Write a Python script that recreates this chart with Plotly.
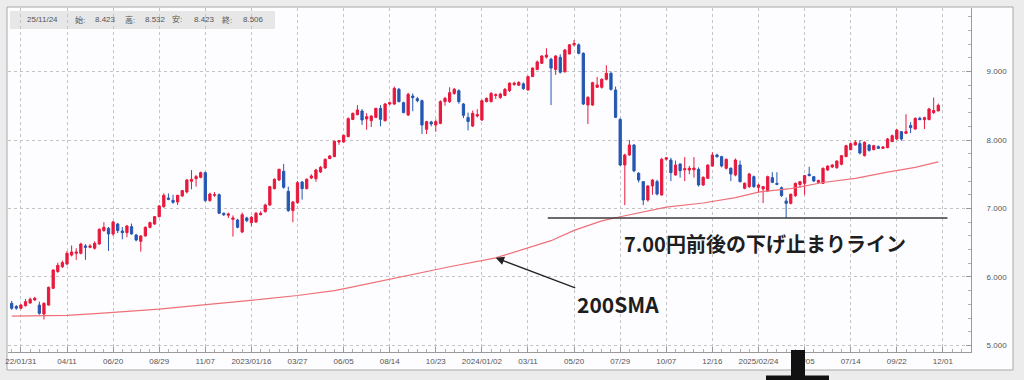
import pandas as pd
import plotly.graph_objects as go

# ---------------- data (weekly candles, first week 2022-01-17) ----------------
start_week = "2022-01-17"

open_ = [
    5.616, 5.570, 5.543, 5.580, 5.620, 5.665, 5.590, 5.460, 5.590, 5.835,
    6.080, 6.150, 6.190, 6.320, 6.346, 6.346, 6.453, 6.433, 6.419, 6.482,
    6.677, 6.711, 6.628, 6.774, 6.672, 6.647, 6.735, 6.613, 6.521, 6.599,
    6.725, 6.774, 6.881, 7.027, 7.153, 7.119, 7.095, 7.183, 7.241, 7.397,
    7.436, 7.455, 7.523, 7.115, 7.192, 7.202, 6.930, 6.901, 6.842, 6.832,
    6.657, 6.862, 6.793, 6.803, 6.910, 6.954, 7.051, 7.290, 7.416, 7.543,
    7.250, 6.969, 7.085, 7.387, 7.290, 7.445, 7.436, 7.533, 7.591, 7.728,
    7.757, 7.971, 7.971, 8.049, 8.300, 8.370, 8.423, 8.307, 8.282, 8.330,
    8.462, 8.282, 8.525, 8.525, 8.740, 8.545, 8.365, 8.642, 8.603, 8.574,
    8.156, 8.263, 8.219, 8.243, 8.560, 8.560, 8.680, 8.720, 8.525, 8.330,
    8.204, 8.350, 8.292, 8.560, 8.560, 8.650, 8.620, 8.650, 8.720, 8.810,
    8.800, 8.820, 8.730, 8.925, 9.030, 9.120, 9.210, 9.180, 9.030, 9.207,
    8.998, 9.256, 9.390, 9.390, 9.265, 8.511, 8.510, 8.769, 8.769, 8.886,
    8.973, 8.730, 8.300, 7.635, 7.781, 7.927, 7.514, 7.392, 7.124, 7.329,
    7.392, 7.197, 7.720, 7.708, 7.489, 7.650, 7.565, 7.562, 7.565, 7.572,
    7.343, 7.441, 7.621, 7.781, 7.757, 7.587, 7.587, 7.489, 7.635, 7.295,
    7.319, 7.465, 7.309, 7.285, 7.256, 7.450, 7.367, 7.304, 7.110, 7.075,
    7.187, 7.350, 7.367, 7.499, 7.465, 7.382, 7.367, 7.562, 7.606, 7.596,
    7.645, 7.757, 7.859, 7.927, 7.947, 7.771, 7.927, 7.859, 7.903, 7.878,
    7.888, 7.976, 8.015, 8.122, 8.097, 8.210, 8.160, 8.316, 8.297, 8.297,
    8.400, 8.423,
]

high = [
    5.65, 5.59, 5.60, 5.68, 5.70, 5.71, 5.64, 5.63, 5.86, 6.11,
    6.21, 6.24, 6.38, 6.46, 6.42, 6.50, 6.48, 6.48, 6.52, 6.71,
    6.80, 6.73, 6.82, 6.79, 6.73, 6.76, 6.78, 6.63, 6.61, 6.74,
    6.81, 6.89, 7.05, 7.22, 7.22, 7.20, 7.20, 7.27, 7.43, 7.56,
    7.49, 7.54, 7.54, 7.23, 7.24, 7.22, 6.94, 6.94, 6.90, 6.85,
    6.94, 6.88, 6.89, 6.95, 6.96, 7.07, 7.33, 7.44, 7.58, 7.65,
    7.32, 7.11, 7.40, 7.40, 7.44, 7.50, 7.58, 7.62, 7.73, 7.78,
    7.99, 8.00, 8.08, 8.33, 8.40, 8.51, 8.45, 8.39, 8.36, 8.47,
    8.51, 8.54, 8.56, 8.78, 8.76, 8.56, 8.69, 8.68, 8.63, 8.59,
    8.28, 8.28, 8.30, 8.58, 8.63, 8.77, 8.76, 8.74, 8.54, 8.40,
    8.43, 8.45, 8.59, 8.62, 8.70, 8.68, 8.69, 8.76, 8.84, 8.85,
    8.86, 8.84, 8.94, 9.06, 9.16, 9.24, 9.34, 9.20, 9.24, 9.25,
    9.33, 9.40, 9.46, 9.41, 9.28, 8.64, 8.85, 8.92, 8.90, 9.09,
    9.00, 8.78, 8.32, 7.80, 8.00, 7.94, 7.53, 7.40, 7.34, 7.43,
    7.42, 7.74, 7.75, 7.74, 7.70, 7.66, 7.75, 7.62, 7.75, 7.60,
    7.47, 7.64, 7.82, 7.80, 7.77, 7.73, 7.60, 7.73, 7.70, 7.38,
    7.52, 7.48, 7.36, 7.33, 7.48, 7.53, 7.53, 7.32, 7.16, 7.22,
    7.38, 7.40, 7.49, 7.61, 7.47, 7.42, 7.60, 7.63, 7.65, 7.70,
    7.78, 7.93, 7.96, 8.00, 8.00, 7.98, 7.94, 7.93, 7.92, 7.91,
    8.03, 8.08, 8.16, 8.13, 8.375, 8.26, 8.33, 8.34, 8.34, 8.47,
    8.62, 8.532,
]

low = [
    5.52, 5.52, 5.53, 5.57, 5.61, 5.65, 5.45, 5.38, 5.58, 5.83,
    6.06, 6.13, 6.17, 6.30, 6.25, 6.33, 6.25, 6.42, 6.40, 6.47,
    6.66, 6.38, 6.60, 6.64, 6.55, 6.58, 6.62, 6.52, 6.37, 6.59,
    6.71, 6.76, 6.87, 7.01, 7.12, 7.07, 7.05, 7.17, 7.22, 7.28,
    7.32, 7.44, 7.10, 7.10, 7.17, 6.92, 6.89, 6.86, 6.59, 6.71,
    6.64, 6.80, 6.74, 6.79, 6.90, 6.94, 7.04, 7.28, 7.40, 7.29,
    6.95, 6.80, 7.07, 7.13, 7.28, 7.43, 7.39, 7.52, 7.58, 7.72,
    7.75, 7.93, 7.96, 8.04, 8.29, 8.36, 8.22, 8.15, 8.19, 8.32,
    8.20, 8.27, 8.51, 8.51, 8.55, 8.39, 8.35, 8.42, 8.55, 8.088,
    8.088, 8.20, 8.12, 8.23, 8.50, 8.54, 8.66, 8.53, 8.32, 8.14,
    8.19, 8.33, 8.28, 8.55, 8.55, 8.60, 8.60, 8.64, 8.70, 8.79,
    8.79, 8.73, 8.72, 8.92, 9.02, 9.11, 9.19, 8.51, 8.95, 8.97,
    8.98, 9.25, 9.37, 9.25, 8.51, 8.233, 8.50, 8.76, 8.75, 8.87,
    8.72, 8.32, 7.62, 7.05, 7.77, 7.53, 7.38, 7.05, 7.10, 7.20,
    7.19, 7.19, 7.70, 7.40, 7.48, 7.45, 7.40, 7.50, 7.45, 7.32,
    7.33, 7.43, 7.61, 7.74, 7.60, 7.57, 7.40, 7.47, 7.38, 7.28,
    7.30, 7.30, 7.23, 7.08, 7.24, 7.37, 7.34, 7.17, 6.857, 7.06,
    7.17, 7.30, 7.20, 7.47, 7.39, 7.37, 7.36, 7.55, 7.59, 7.58,
    7.63, 7.75, 7.85, 7.92, 7.79, 7.76, 7.83, 7.85, 7.87, 7.87,
    7.88, 7.97, 8.00, 7.99, 8.09, 8.10, 8.15, 8.29, 8.16, 8.29,
    8.38, 8.423,
]

close = [
    5.543, 5.545, 5.592, 5.640, 5.675, 5.690, 5.470, 5.616, 5.849, 6.102,
    6.170, 6.210, 6.346, 6.365, 6.365, 6.482, 6.433, 6.453, 6.492, 6.696,
    6.725, 6.628, 6.803, 6.677, 6.647, 6.745, 6.628, 6.540, 6.599, 6.725,
    6.793, 6.881, 7.037, 7.192, 7.134, 7.090, 7.192, 7.261, 7.416, 7.426,
    7.465, 7.523, 7.115, 7.212, 7.202, 6.930, 6.910, 6.920, 6.862, 6.725,
    6.910, 6.823, 6.871, 6.930, 6.930, 7.051, 7.319, 7.426, 7.572, 7.309,
    6.969, 7.095, 7.377, 7.290, 7.426, 7.475, 7.562, 7.601, 7.718, 7.767,
    7.981, 7.990, 8.068, 8.312, 8.389, 8.438, 8.292, 8.340, 8.350, 8.462,
    8.302, 8.526, 8.545, 8.754, 8.560, 8.400, 8.667, 8.618, 8.574, 8.219,
    8.268, 8.234, 8.268, 8.560, 8.608, 8.690, 8.740, 8.560, 8.360, 8.270,
    8.389, 8.370, 8.574, 8.608, 8.680, 8.660, 8.670, 8.740, 8.830, 8.830,
    8.840, 8.750, 8.925, 9.050, 9.140, 9.226, 9.240, 9.050, 9.226, 8.990,
    9.314, 9.390, 9.410, 9.265, 8.525, 8.623, 8.837, 8.803, 8.886, 8.973,
    8.740, 8.331, 7.635, 7.781, 7.927, 7.550, 7.416, 7.124, 7.329, 7.416,
    7.212, 7.718, 7.740, 7.523, 7.635, 7.552, 7.580, 7.587, 7.590, 7.343,
    7.455, 7.635, 7.781, 7.757, 7.621, 7.718, 7.504, 7.708, 7.392, 7.368,
    7.504, 7.319, 7.343, 7.319, 7.465, 7.382, 7.353, 7.187, 7.075, 7.207,
    7.367, 7.392, 7.480, 7.480, 7.401, 7.410, 7.586, 7.620, 7.635, 7.694,
    7.771, 7.917, 7.947, 7.966, 7.810, 7.966, 7.849, 7.917, 7.878, 7.898,
    8.015, 8.063, 8.146, 8.015, 8.122, 8.180, 8.316, 8.297, 8.326, 8.453,
    8.430, 8.506,
]

# 200-week simple moving average, read at selected weeks (week index, value)
sma_week_index = [0, 7, 12, 19, 26, 32, 41, 48, 55, 62, 70, 73, 84, 95, 105,
                  117, 122, 128, 132, 138, 142, 150, 157, 162, 169, 176, 183,
                  190, 196, 201]
sma_values = [5.43, 5.43, 5.44, 5.47, 5.50, 5.53, 5.59, 5.63, 5.68, 5.73,
              5.80, 5.84, 6.00, 6.15, 6.28, 6.53, 6.68, 6.82, 6.88, 6.97,
              7.02, 7.08, 7.16, 7.24, 7.29, 7.38, 7.44, 7.53, 7.60, 7.68]

support_level = 6.86
support_dates = ["2024-04-10", "2025-12-08"]

tick_dates = ["2022-01-31", "2022-04-11", "2022-06-20", "2022-08-29", "2022-11-07",
              "2023-01-16", "2023-03-27", "2023-06-05", "2023-08-14", "2023-10-23",
              "2024-01-01", "2024-03-11", "2024-05-20", "2024-07-29", "2024-10-07",
              "2024-12-16", "2025-02-24", "2025-05-05", "2025-07-14", "2025-09-22",
              "2025-12-01"]
tick_labels = ["22/01/31", "04/11", "06/20", "08/29", "11/07",
               "2023/01/16", "03/27", "06/05", "08/14", "10/23",
               "2024/01/02", "03/11", "05/20", "07/29", "10/07",
               "12/16", "2025/02/24", "05/05", "07/14", "09/22",
               "12/01"]
y_ticks = [5, 6, 7, 8, 9]

header_date = "25/11/24"
label_support = "7.00円前後の下げ止まりライン"
label_sma = "200SMA"
arrow_week_index = 105

# ---------------- figure ----------------
weeks = pd.date_range(start_week, periods=len(close), freq="7D")
sma_dates = [weeks[i] for i in sma_week_index]

RED = "#e8193d"
BLUE = "#2457b2"

fig = go.Figure()

fig.add_trace(go.Scatter(
    x=sma_dates, y=sma_values, mode="lines",
    line=dict(color="#ee7078", width=1.2), hoverinfo="skip", showlegend=False))

fig.add_trace(go.Candlestick(
    x=weeks, open=open_, high=high, low=low, close=close,
    increasing=dict(line=dict(color=RED, width=1), fillcolor=RED),
    decreasing=dict(line=dict(color=BLUE, width=1), fillcolor=BLUE),
    whiskerwidth=0, showlegend=False))

fig.add_trace(go.Scatter(
    x=support_dates, y=[support_level, support_level], mode="lines",
    line=dict(color="#3a3a3a", width=1.5), hoverinfo="skip", showlegend=False))

W, H = 1024, 380
ML, MR, MT, MB = 8, 53, 8, 28
PW, PH = W - ML - MR, H - MT - MB


def px(x):
    return (x - ML) / PW


def py(y):
    return (H - MB - y) / PH


shapes = [
    # chart panel
    dict(type="rect", xref="paper", yref="paper", layer="below",
         x0=px(7), x1=px(1013), y0=py(370), y1=py(7),
         fillcolor="#fdfdff", line=dict(color="#a8a8a8", width=1)),
    # header box
    dict(type="rect", xref="paper", yref="paper", layer="below",
         x0=px(10), x1=px(275), y0=py(29), y1=py(11),
         fillcolor="#e7e7e7", line=dict(width=0)),
    # black marker at the bottom
    dict(type="rect", xref="paper", yref="paper", layer="above",
         x0=px(791), x1=px(805), y0=py(381), y1=py(350),
         fillcolor="#111111", line=dict(width=0)),
    dict(type="rect", xref="paper", yref="paper", layer="above",
         x0=px(766), x1=px(829), y0=py(381), y1=py(375.5),
         fillcolor="#111111", line=dict(width=0)),
]

hdr_font = dict(family="Liberation Sans, Noto Sans CJK JP", size=8, color="#555555")
header_items = [
    (25, header_date), (73, "始:"), (93, f"{open_[-1]:.3f}"),
    (123, "高:"), (143, f"{high[-1]:.3f}"), (170, "安:"), (192, f"{low[-1]:.3f}"),
    (220, "終:"), (241, f"{close[-1]:.3f}"),
]
annotations = [
    dict(xref="paper", yref="paper", x=px(xp), y=py(20), text=t, showarrow=False,
         xanchor="left", yanchor="middle", font=hdr_font)
    for xp, t in header_items
]

big_font = dict(family="Noto Sans CJK JP", size=20, color="#1e1e1e", weight=700)
annotations.append(dict(
    xref="paper", yref="paper", x=px(765), y=py(243), text=label_support,
    showarrow=False, xanchor="center", yanchor="middle", font=big_font))
annotations.append(dict(
    x=weeks[arrow_week_index], y=sma_values[sma_week_index.index(arrow_week_index)],
    xref="x", yref="y", text=label_sma, showarrow=True,
    ax=122, ay=46, axref="pixel", ayref="pixel",
    arrowhead=2, arrowsize=1.3, arrowwidth=1.3, arrowcolor="#222222",
    font=dict(family="Noto Sans CJK JP", size=21, color="#1e1e1e", weight=700)))

x_start = weeks[0] - pd.Timedelta(days=5.6)
x_end = weeks[0] + pd.Timedelta(days=208.1 * 7)

axis_font = dict(family="Liberation Sans", size=8, color="#555555")

fig.update_layout(
    width=W, height=H,
    margin=dict(l=ML, r=MR, t=MT, b=MB, pad=0),
    paper_bgcolor="#ececec", plot_bgcolor="#fdfdff",
    shapes=shapes, annotations=annotations,
    showlegend=False,
    xaxis=dict(
        type="date", range=[x_start, x_end], rangeslider=dict(visible=False),
        tickmode="array", tickvals=tick_dates, ticktext=tick_labels,
        showgrid=True, gridcolor="#c4c4c4", griddash="dot", gridwidth=1,
        ticks="inside", ticklen=5, tickcolor="#9a9a9a",
        minor=dict(ticks="inside", ticklen=3, tickcolor="#b0b0b0",
                   tickmode="linear", tick0="2022-01-17", dtick=14 * 86400000,
                   showgrid=False),
        showline=True, linecolor="#9a9a9a", linewidth=1,
        tickfont=axis_font, ticklabelstandoff=1, automargin=False,
        zeroline=False, fixedrange=True,
    ),
    yaxis=dict(
        side="right", range=[4.905, 9.927],
        tickmode="array", tickvals=y_ticks, ticktext=[f"{v:.3f}" for v in y_ticks],
        showgrid=True, gridcolor="#c4c4c4", griddash="dot", gridwidth=1,
        ticks="inside", ticklen=5, tickcolor="#9a9a9a",
        minor=dict(ticks="inside", ticklen=3, tickcolor="#b0b0b0",
                   tickmode="linear", tick0=5, dtick=0.2, showgrid=False),
        showline=True, linecolor="#9a9a9a", linewidth=1,
        tickfont=axis_font, ticklabelstandoff=13, automargin=False,
        zeroline=False, fixedrange=True,
    ),
)

fig.write_html(
    "out.html",
    config={"displayModeBar": False},
    post_script="document.body.style.margin='0';document.body.style.background='#ececec';",
)
